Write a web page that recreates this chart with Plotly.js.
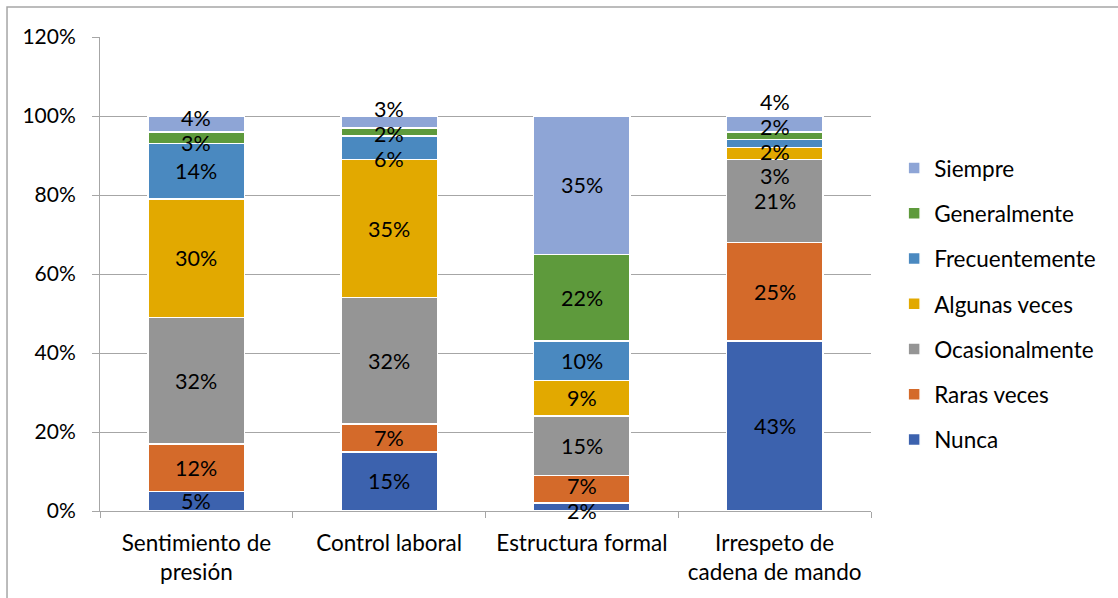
<!DOCTYPE html>
<html><head><meta charset="utf-8">
<script src="https://cdn.plot.ly/plotly-3.0.1.min.js"></script>
<style>html,body{margin:0;padding:0;background:#fff}#chart{width:1118px;height:598px}</style>
</head><body><div id="chart"></div>
<script>
const categories = ['Sentimiento de<br>presión', 'Control laboral', 'Estructura formal', 'Irrespeto de<br>cadena de mando'];
const seriesNames = ['Nunca', 'Raras veces', 'Ocasionalmente', 'Algunas veces', 'Frecuentemente', 'Generalmente', 'Siempre'];
const nunca = [5, 15, 2, 43];
const rarasVeces = [12, 7, 7, 25];
const ocasionalmente = [32, 32, 15, 21];
const algunasVeces = [30, 35, 9, 3];
const frecuentemente = [14, 6, 10, 2];
const generalmente = [3, 2, 22, 2];
const siempre = [4, 3, 35, 4];
const yTicks = [0, 20, 40, 60, 80, 100, 120];

const seriesValues = [nunca, rarasVeces, ocasionalmente, algunasVeces, frecuentemente, generalmente, siempre];
const colors = ['#3C62AE', '#D46A2A', '#959595', '#E2A900', '#4A89C0', '#5E9A3C', '#8EA5D6'];
const FONT = 'Lato, "Open Sans", sans-serif';
const FS = 22.5;
const GRID = '#a6a6a6';

const traces = seriesNames.map((name, s) => ({
  type: 'bar',
  name: name,
  x: categories,
  y: seriesValues[s],
  legendgroup: name,
  legendrank: 1000 - s,
  marker: {color: colors[s], line: {color: '#ffffff', width: 1.5}},
  hovertemplate: '%{x}<br>' + name + ': %{y}%<extra></extra>'
}));

// label positions: segment centers, spread apart when labels would overlap
function spread(centers, gap) {
  let groups = centers.map(c => ({members: [c], pos: c}));
  let changed = true;
  while (changed) {
    changed = false;
    for (let k = 0; k < groups.length - 1; k++) {
      const a = groups[k], b = groups[k + 1];
      const aTop = a.pos + (a.members.length - 1) * gap / 2;
      const bBot = b.pos - (b.members.length - 1) * gap / 2;
      if (bBot - aTop < gap - 1e-9) {
        const members = a.members.concat(b.members);
        const mean = members.reduce((t, v) => t + v, 0) / members.length;
        groups.splice(k, 2, {members: members, pos: mean});
        changed = true;
        break;
      }
    }
  }
  const out = [];
  groups.forEach(g => {
    const n = g.members.length;
    g.members.forEach((m, j) => out.push(g.pos + (j - (n - 1) / 2) * gap));
  });
  return out;
}

const annotations = [];
categories.forEach((cat, i) => {
  let base = 0;
  const centers = [];
  seriesValues.forEach(vals => { centers.push(base + vals[i] / 2); base += vals[i]; });
  const pos = spread(centers, 6.3);
  seriesValues.forEach((vals, s) => {
    annotations.push({
      x: cat, y: pos[s], xref: 'x', yref: 'y',
      text: vals[i] + '%', showarrow: false, borderpad: 0,
      font: {family: FONT, size: 21.5, color: '#000'}
    });
  });
});

const layout = {
  width: 1118, height: 598,
  margin: {l: 100, r: 247, t: 37, b: 87},
  paper_bgcolor: '#ffffff', plot_bgcolor: '#ffffff',
  barmode: 'stack',
  bargap: 0.5,
  font: {family: FONT, size: FS, color: '#000'},
  showlegend: true,
  legend: {
    x: 1.03, xanchor: 'left', y: 0.437, yanchor: 'middle',
    traceorder: 'grouped', tracegroupgap: 13,
    font: {family: FONT, size: FS, color: '#000'},
    bgcolor: 'rgba(0,0,0,0)'
  },
  xaxis: {
    type: 'category', showline: true, linecolor: GRID, linewidth: 1,
    ticks: 'outside', tickson: 'boundaries', ticklen: 6, tickcolor: GRID,
    showgrid: false, zeroline: false, fixedrange: true,
    ticklabelstandoff: 12,
    tickfont: {family: FONT, size: FS, color: '#000'}
  },
  yaxis: {
    range: [0, 120], tickvals: yTicks, ticktext: yTicks.map(v => v + '%'),
    showline: true, linecolor: GRID, linewidth: 1,
    ticks: 'outside', ticklen: 7, tickcolor: GRID,
    showgrid: true, gridcolor: GRID, gridwidth: 1, zeroline: false, fixedrange: true,
    ticklabelstandoff: 12,
    tickfont: {family: FONT, size: 21, color: '#000'}
  },
  annotations: annotations,
  shapes: [{
    type: 'rect', xref: 'paper', yref: 'paper',
    x0: -0.1206, x1: 1.4, y0: -0.3, y1: 1.0633,
    line: {color: '#a6a6a6', width: 1.5}, fillcolor: 'rgba(0,0,0,0)', layer: 'below'
  }]
};

Plotly.newPlot('chart', traces, layout, {displayModeBar: false, staticPlot: true});
</script>
</body></html>
